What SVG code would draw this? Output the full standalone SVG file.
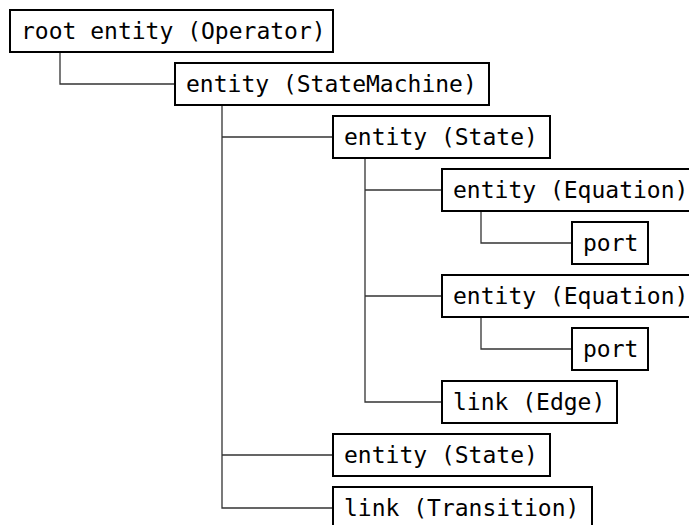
<svg xmlns="http://www.w3.org/2000/svg" width="689" height="525" viewBox="0 0 689 525">
<style>
rect.n{fill:#fff;stroke:#000;stroke-width:2}
text{font-family:"DejaVu Sans Mono","Liberation Mono",monospace;font-size:23px;fill:#000}
.c path{fill:none;stroke:#333;stroke-width:1.3}
</style>
<rect width="689" height="525" fill="#fff"/>
<g class="c" id="connectors">
<path d="M60 52V84H175"/>
<path d="M222 104V508H333M222 137H333M222 455H333"/>
<path d="M365 158V402H442M365 190H442M365 296H442"/>
<path d="M481 211V243H572"/>
<path d="M481 317V349H572"/>
</g>
<g id="root"><rect class="n" x="10" y="10" width="323" height="42"/><text x="21" y="39">root entity (Operator)</text></g>
<g id="sm"><rect class="n" x="175" y="63" width="314" height="42"/><text x="186" y="92">entity (StateMachine)</text></g>
<g id="state1"><rect class="n" x="333" y="116" width="217" height="42"/><text x="344" y="145">entity (State)</text></g>
<g id="eq1"><rect class="n" x="442" y="169" width="260" height="42"/><text x="453" y="198">entity (Equation)</text></g>
<g id="port1"><rect class="n" x="572" y="222" width="76" height="42"/><text x="583" y="251">port</text></g>
<g id="eq2"><rect class="n" x="442" y="275" width="260" height="42"/><text x="453" y="304">entity (Equation)</text></g>
<g id="port2"><rect class="n" x="572" y="328" width="76" height="42"/><text x="583" y="357">port</text></g>
<g id="edge"><rect class="n" x="442" y="381" width="175" height="42"/><text x="453" y="410">link (Edge)</text></g>
<g id="state2"><rect class="n" x="333" y="434" width="217" height="42"/><text x="344" y="463">entity (State)</text></g>
<g id="trans"><rect class="n" x="333" y="487" width="259" height="42"/><text x="344" y="516">link (Transition)</text></g>
</svg>
